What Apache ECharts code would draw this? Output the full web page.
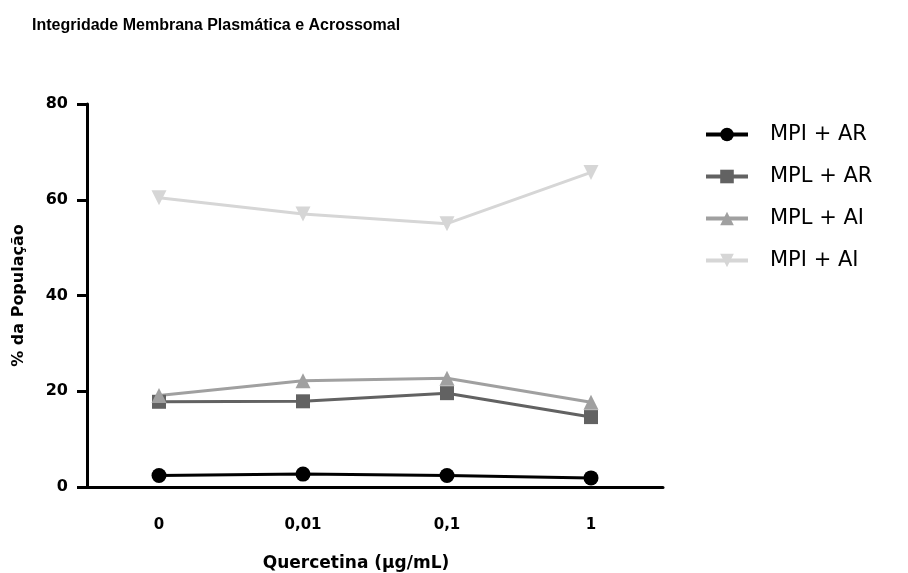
<!DOCTYPE html>
<html>
<head>
<meta charset="utf-8">
<script src="https://cdn.jsdelivr.net/npm/echarts@6/dist/echarts.min.js"></script>
<style>
html,body{margin:0;padding:0;background:#fff;}
#chart{width:908px;height:573px;}
</style>
</head>
<body>
<div id="chart"></div>
<script>
// dados
var categorias = ['0', '0,01', '0,1', '1'];
var mpiAR = [2.4, 2.7, 2.4, 1.9];
var mplAR = [17.8, 17.9, 19.6, 14.6];
var mplAI = [19.1, 22.2, 22.7, 17.7];
var mpiAI = [60.4, 57.0, 55.0, 65.7];

var myChart = echarts.init(document.getElementById('chart'));

function serie(nome, dados, cor, simbolo, tamanho, rot) {
    return {
        name: nome,
        type: 'line',
        data: dados,
        symbol: simbolo,
        symbolSize: tamanho,
        symbolRotate: rot || 0,
        lineStyle: {color: cor, width: 3},
        itemStyle: {color: cor},
        z: 3
    };
}

var option = {
    animation: false,
    backgroundColor: '#fff',
    title: {
        text: 'Integridade Membrana Plasmática e Acrossomal',
        left: 27,
        top: 13,
        textStyle: {fontFamily: 'Liberation Sans', fontWeight: 'bold', fontSize: 16, color: '#000'}
    },
    legend: {
        orient: 'vertical',
        left: 699,
        top: 119,
        itemWidth: 42,
        itemHeight: 17,
        itemGap: 21,
        lineStyle: {width: 4},
        textStyle: {fontFamily: 'DejaVu Sans', fontSize: 21, color: '#000', padding: [0, 0, 0, 17]},
        data: ['MPI + AR', 'MPL + AR', 'MPL + AI', 'MPI + AI']
    },
    grid: {left: 87, right: 245, top: 104, bottom: 86, outerBoundsMode: 'none'},
    xAxis: {
        type: 'category',
        data: categorias,
        name: 'Quercetina (µg/mL)',
        nameLocation: 'middle',
        nameGap: 68,
        nameTextStyle: {fontFamily: 'DejaVu Sans', fontWeight: 'bold', fontSize: 17, color: '#000', padding: [0, 38, 0, 0]},
        axisLine: {lineStyle: {color: '#000', width: 3}},
        axisTick: {alignWithLabel: true, length: 8, lineStyle: {color: '#000', width: 3}},
        axisLabel: {margin: 31, fontFamily: 'DejaVu Sans', fontWeight: 'bold', fontSize: 15, color: '#000'}
    },
    yAxis: {
        type: 'value',
        min: 0,
        max: 80,
        interval: 20,
        name: '% da População',
        nameLocation: 'middle',
        nameGap: 60,
        nameTextStyle: {fontFamily: 'DejaVu Sans', fontWeight: 'bold', fontSize: 16, color: '#000'},
        splitLine: {show: false},
        axisLine: {show: true, lineStyle: {color: '#000', width: 3}},
        axisTick: {show: true, length: 10, lineStyle: {color: '#000', width: 3}},
        axisLabel: {margin: 19, fontFamily: 'DejaVu Sans', fontWeight: 'bold', fontSize: 16, color: '#000'}
    },
    series: [
        serie('MPI + AR', mpiAR, '#000000', 'circle', 15),
        serie('MPL + AR', mplAR, '#626262', 'rect', 14),
        serie('MPL + AI', mplAI, '#a0a0a0', 'triangle', 15),
        serie('MPI + AI', mpiAI, '#d6d6d6', 'triangle', 15, 180)
    ]
};

myChart.setOption(option);
</script>
</body>
</html>
